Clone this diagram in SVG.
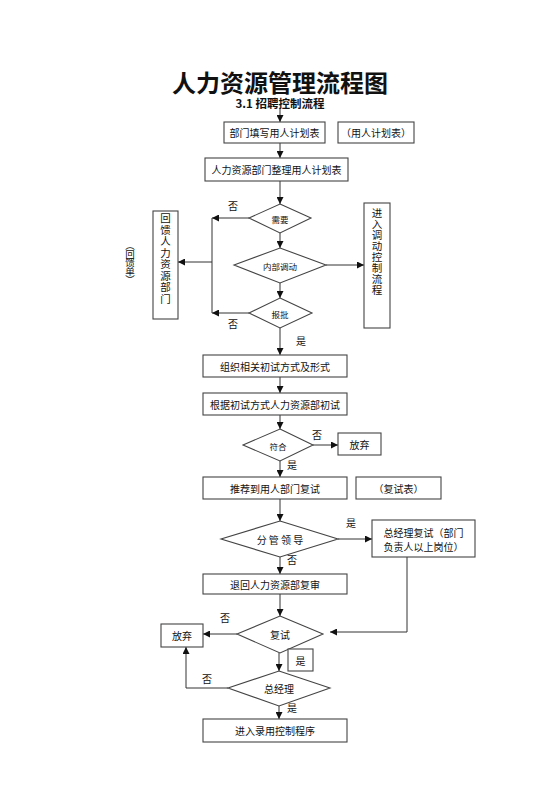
<svg xmlns="http://www.w3.org/2000/svg" width="560" height="792" viewBox="0 0 560 792">
<style>
text{font-family:"Noto Sans CJK SC","Liberation Sans",sans-serif;fill:#111;}
.box{fill:#fff;stroke:#444;stroke-width:1.1;}
.t{font-size:10px;text-anchor:middle;dominant-baseline:central;}
.s{font-size:8.5px;text-anchor:middle;dominant-baseline:central;}
.l{font-size:10px;text-anchor:middle;dominant-baseline:central;}
.v{font-size:10.5px;writing-mode:vertical-rl;text-anchor:middle;letter-spacing:1px;}
.ln{fill:none;stroke:#333;stroke-width:1;marker-end:url(#ah);}
.pl{fill:none;stroke:#333;stroke-width:1;}
</style>
<defs>
<marker id="ah" viewBox="0 0 10 10" refX="10" refY="5" markerWidth="7" markerHeight="7" orient="auto" markerUnits="userSpaceOnUse">
<path d="M0,0 L10,5 L0,10 z" fill="#111"/>
</marker>
</defs>
<rect width="560" height="792" fill="#fff"/>
<text x="280" y="81" style="font-size:24px;font-weight:bold;text-anchor:middle;dominant-baseline:central;">人力资源管理流程图</text>
<text x="280" y="103" style="font-size:11.5px;font-weight:bold;text-anchor:middle;dominant-baseline:central;">3.1 招聘控制流程</text>

<g id="connectors">
<line class="ln" x1="280" y1="109" x2="280" y2="122"/>
<line class="ln" x1="280" y1="143" x2="280" y2="158"/>
<line class="ln" x1="280" y1="181" x2="280" y2="204"/>
<line class="ln" x1="280" y1="233" x2="280" y2="248"/>
<line class="ln" x1="280" y1="283" x2="280" y2="298"/>
<line class="ln" x1="280" y1="328" x2="280" y2="355"/>
<line class="ln" x1="249" y1="218" x2="212" y2="218"/>
<line class="ln" x1="249" y1="313" x2="212" y2="313"/>
<line class="pl" x1="212" y1="218" x2="212" y2="313"/>
<line class="ln" x1="212" y1="262" x2="178" y2="262"/>
<line class="ln" x1="326" y1="265" x2="364" y2="265"/>
<line class="ln" x1="280" y1="377" x2="280" y2="393"/>
<line class="ln" x1="280" y1="415" x2="280" y2="429"/>
<line class="ln" x1="313" y1="445" x2="338" y2="445"/>
<line class="ln" x1="280" y1="461" x2="280" y2="477"/>
<line class="ln" x1="280" y1="499" x2="280" y2="521"/>
<line class="ln" x1="338" y1="539" x2="372" y2="539"/>
<line class="ln" x1="280" y1="557" x2="280" y2="574"/>
<line class="ln" x1="280" y1="594" x2="280" y2="616"/>
<polyline class="ln" points="407,557 407,632 330,632"/>
<line class="ln" x1="237" y1="634" x2="203" y2="634"/>
<line class="ln" x1="279" y1="653" x2="279" y2="671"/>
<polyline class="ln" points="228,688 186,688 186,647"/>
<line class="ln" x1="279" y1="706" x2="279" y2="719"/>
</g>

<g id="n1"><rect class="box" x="224" y="122" width="101" height="21"/><text class="t" x="274.5" y="132.5">部门填写用人计划表</text></g>
<g id="n1b"><rect class="box" x="338" y="122" width="76" height="21"/><text class="t" x="376" y="132.5">（用人计划表）</text></g>
<g id="n2"><rect class="box" x="205" y="158" width="143" height="23"/><text class="t" x="276.5" y="169.5">人力资源部门整理用人计划表</text></g>
<g id="d1"><polygon class="box" points="280,204 311,218 280,233 249,218"/><text class="s" x="280" y="218.5">需要</text></g>
<g id="d2"><polygon class="box" points="280,248 326,265 280,283 234,265"/><text class="s" x="280" y="265.5">内部调动</text></g>
<g id="d3"><polygon class="box" points="280,298 312,313 280,328 249,313"/><text class="s" x="280" y="313.5">报批</text></g>
<g id="nfb"><rect class="box" x="153" y="211" width="25" height="108"/><text class="v" x="165.5" y="259">回馈人力资源部门</text></g>
<g id="nfbd"><text class="v" x="130" y="262" style="font-size:9.5px;letter-spacing:-1px">（回馈单）</text></g>
<g id="ntr"><rect class="box" x="364" y="203" width="26" height="125"/><text class="v" x="377" y="251.5" style="letter-spacing:0.5px">进入调动控制流程</text></g>
<text class="l" x="233" y="205">否</text>
<text class="l" x="233" y="323">否</text>
<text class="l" x="301" y="340">是</text>

<g id="n3"><rect class="box" x="203" y="355" width="144" height="22"/><text class="t" x="275" y="366">组织相关初试方式及形式</text></g>
<g id="n4"><rect class="box" x="203" y="393" width="144" height="22"/><text class="t" x="275" y="404">根据初试方式人力资源部初试</text></g>
<g id="d4"><polygon class="box" points="280,429 313,445 280,461 243,445"/><text class="s" x="278" y="445.5">符合</text></g>
<g id="nq1"><rect class="box" x="338" y="433" width="43" height="22"/><text class="t" x="359.5" y="444">放弃</text></g>
<text class="l" x="317" y="434">否</text>
<text class="l" x="292" y="464">是</text>
<g id="n5"><rect class="box" x="203" y="477" width="144" height="22"/><text class="t" x="275" y="488">推荐到用人部门复试</text></g>
<g id="n5b"><rect class="box" x="356" y="477" width="85" height="22"/><text class="t" x="398.5" y="488">（复试表）</text></g>
<g id="d5"><polygon class="box" points="280,521 338,539 280,557 221,539"/><text class="t" x="280" y="539.5">分 管 领 导</text></g>
<text class="l" x="351" y="522">是</text>
<g id="n6"><rect class="box" x="372" y="520" width="103" height="37"/><text class="t" x="423.5" y="532">总经理复试（部门</text><text class="t" x="423.5" y="546">负责人以上岗位）</text></g>
<text class="l" x="292" y="559">否</text>
<g id="n7"><rect class="box" x="203" y="574" width="144" height="20"/><text class="t" x="275" y="584">退回人力资源部复审</text></g>
<g id="d6"><polygon class="box" points="280,616 323,634 280,653 237,634"/><text class="t" x="280" y="634.5">复试</text></g>
<text class="l" x="225" y="617">否</text>
<g id="nq2"><rect class="box" x="161" y="624" width="42" height="23"/><text class="t" x="182" y="635.5">放弃</text></g>
<g id="nyes"><rect class="box" x="288" y="649" width="25" height="22"/><text class="t" x="300.5" y="660">是</text></g>
<g id="d7"><polygon class="box" points="279,671 330,688 279,706 228,688"/><text class="t" x="279" y="688.5">总经理</text></g>
<text class="l" x="207" y="678">否</text>
<text class="l" x="292" y="707">是</text>
<g id="n8"><rect class="box" x="203" y="719" width="144" height="23"/><text class="t" x="275" y="730.5">进入录用控制程序</text></g>
</svg>
